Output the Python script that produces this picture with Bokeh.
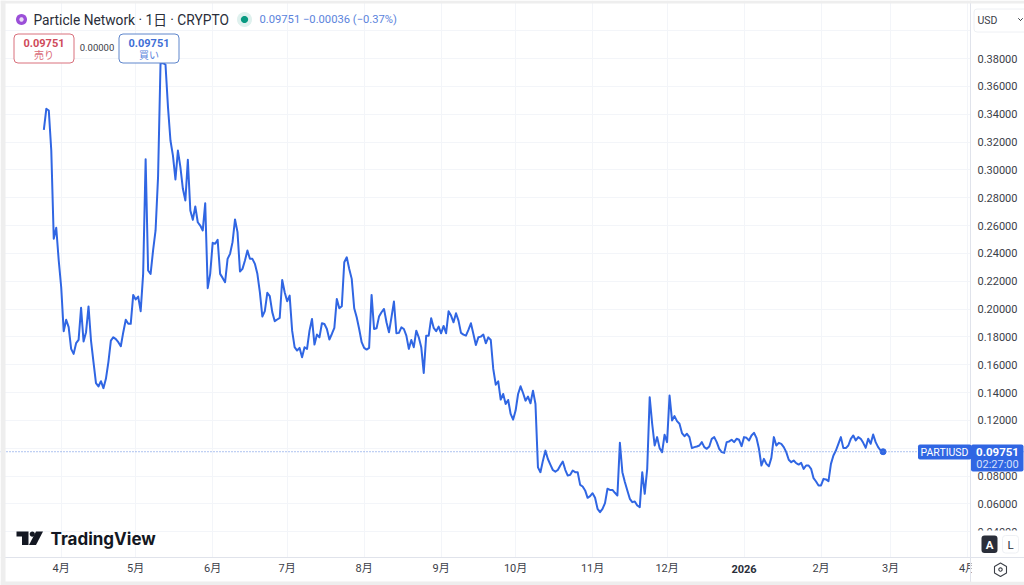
import math
from bokeh.plotting import figure
from bokeh.embed import file_html
from bokeh.resources import INLINE
from bokeh.models import (FixedTicker, NumeralTickFormatter, Label, BoxAnnotation, LinearAxis, Grid,
                          PolyAnnotation, Span, ColumnDataSource, Range1d)

# Daily closes of PARTIUSD, first entry 2025-03-25
prices = [
 .3288,.3439,.3427,.3139,.2505,.2584,.2349,.2157,.1841,.1923,.1870,.1714,.1678,.1755,.1779,.2009,.1767,.1834,.2019,.1774,
 .1619,.1468,.1444,.1482,.1432,.1499,.1619,.1774,.1798,.1784,.1762,.1733,.1834,.1923,.1894,.1894,.2102,.2069,.2090,.1985,
 .2253,.3077,.2277,.2253,.2421,.2565,.2948,.3767,.3767,.3757,.3451,.3211,.3103,.2931,.3139,.3020,.2864,.2780,.3072,.2708,
 .2641,.2737,.2624,.2600,.2565,.2761,.2150,.2253,.2476,.2469,.2497,.2253,.2224,.2193,.2361,.2397,.2481,.2644,.2553,.2270,
 .2289,.2349,.2421,.2361,.2361,.2325,.2253,.2122,.1947,.1985,.2117,.2093,.1978,.1913,.1925,.1937,.2209,.2121,.2056,.2097,
 .1845,.1726,.1702,.1721,.1654,.1726,.1714,.1845,.1929,.1745,.1817,.1797,.1898,.1893,.1857,.1781,.1821,.1865,.2073,.2006,
 .2020,.2336,.2372,.2288,.2217,.2006,.1941,.1857,.1762,.1721,.1709,.1721,.2102,.1857,.1862,.1946,.1977,.2001,.1905,.1833,
 .1941,.2054,.1826,.1829,.1869,.1857,.1809,.1714,.1778,.1726,.1845,.1797,.1726,.1541,.1809,.1809,.1934,.1865,.1841,.1874,
 .1826,.1879,.1826,.1984,.1953,.1905,.1970,.1917,.1829,.1817,.1809,.1850,.1898,.1821,.1742,.1797,.1802,.1817,.1754,.1797,
 .1778,.1570,.1457,.1481,.1350,.1390,.1318,.1347,.1247,.1206,.1271,.1390,.1445,.1397,.1342,.1371,.1323,.1414,.1318,.0863,
 .0828,.0911,.0983,.0923,.0883,.0844,.0832,.0844,.0876,.0905,.0845,.0804,.0809,.0840,.0828,.0828,.0737,.0725,.0697,.0644,
 .0656,.0677,.0644,.0565,.0541,.0565,.0606,.0709,.0701,.0701,.0680,.0661,.1039,.0828,.0757,.0697,.0637,.0613,.0618,.0589,
 .0577,.0828,.0673,.0852,.1367,.1176,.1020,.1080,.1001,.0972,.1097,.1044,.1379,.1200,.1231,.1195,.1176,.1109,.1087,.1104,
 .1080,.1001,.1008,.1013,.1020,.1044,.1008,.0996,.1013,.1068,.1080,.1044,.0996,.0972,.0967,.1044,.1049,.1061,.1044,.1068,
 .1061,.1015,.1080,.1075,.1056,.1092,.1111,.1075,.0996,.0876,.0924,.0888,.0871,.0931,.1080,.1020,.1039,.1032,.1008,.0972,
 .0917,.0900,.0912,.0893,.0883,.0895,.0852,.0876,.0876,.0852,.0785,.0761,.0733,.0733,.0780,.0776,.0764,.0888,.0948,.0984,
 .1032,.1080,.1001,.1001,.1020,.1068,.1092,.1056,.1080,.1068,.1039,.1003,.1068,.1032,.1099,.1044,.1008,.0984,.09751]
days = list(range(len(prices)))

month_days = [7, 37, 68, 98, 129, 160, 190, 221, 251, 282, 313, 341, 372]
month_labels = ["4月", "5月", "6月", "7月", "8月", "9月", "10月", "11月", "12月", "", "2月", "3月", "4月"]
year_day, year_label = 282, "2026"
price_ticks = [0.04, 0.06, 0.08, 0.10, 0.12, 0.14, 0.16, 0.18, 0.20, 0.22, 0.24, 0.26, 0.28, 0.30, 0.32, 0.34, 0.36, 0.38, 0.40]
last_price = 0.09751

BLUE = "#3066e3"
TXT = "#2a2e39"
FONT = "Roboto, 'Noto Sans CJK JP'"
JP = "'Noto Sans CJK JP'"
HEIGHT = 585

# the frame fills the whole picture; the two scales sit at fixed places inside it
p = figure(width=1024, height=HEIGHT, output_backend="svg", toolbar_location=None,
           x_range=Range1d(-17.45, 394.95), y_range=Range1d(0.0014, 0.4217),
           x_axis_location=None, y_axis_location=None,
           min_border_left=0, min_border_top=0, min_border_right=0, min_border_bottom=0)
p.outline_line_color = None
p.background_fill_color = "white"
p.grid.visible = False

TIME_LOC = 0.0215     # the time scale's line
PANE_EDGE = 373.2     # the line between chart and price scale

month_ticker = FixedTicker(ticks=month_days)
price_ticker = FixedTicker(ticks=price_ticks)
xa = LinearAxis(ticker=month_ticker, fixed_location=TIME_LOC)
xa.major_label_overrides = dict(zip(month_days, month_labels))
ya = LinearAxis(ticker=price_ticker, fixed_location=PANE_EDGE, formatter=NumeralTickFormatter(format="0.00000"))
for a in (xa, ya):
    a.major_tick_line_color = None
    a.minor_tick_line_color = None
    a.major_tick_out = 0
    a.major_tick_in = 0
    a.major_label_text_color = "#3c4048"
    a.major_label_text_font = FONT
    a.major_label_text_font_size = "11px"
    a.axis_line_color = "#e0e3eb"
xa.major_label_standoff = 4
ya.major_label_standoff = 7
p.add_layout(xa, "below")
p.add_layout(ya, "right")

for dim, tk in ((0, month_ticker), (1, price_ticker)):
    p.add_layout(Grid(dimension=dim, ticker=tk, grid_line_color="#f3f5f9", grid_line_width=1, level="image"))


def sx(x): return x
def sy(y): return HEIGHT - y


def text(x, y, s, size, color=TXT, align="left", style="normal", font=FONT):
    p.add_layout(Label(x=sx(x), y=sy(y), x_units="screen", y_units="screen", text=s, text_font=font,
                       text_font_size=f"{size}px", text_color=color, text_align=align, text_baseline="middle",
                       text_font_style=style))


def box(x0, y0, x1, y1, fill="white", line=None, radius=0, level="annotation"):
    p.add_layout(BoxAnnotation(left=sx(x0), right=sx(x1), top=sy(y0), bottom=sy(y1),
                               left_units="screen", right_units="screen", top_units="screen", bottom_units="screen",
                               fill_color=fill, fill_alpha=1, line_color=line, line_alpha=1, line_width=1,
                               border_radius=radius, level=level, editable=False))


def poly(pts, fill=None, line=None, w=1.0):
    p.add_layout(PolyAnnotation(xs=[sx(a) for a, _ in pts], ys=[sy(b) for _, b in pts],
                                xs_units="screen", ys_units="screen",
                                fill_color=fill, fill_alpha=1 if fill else 0, line_color=line, line_alpha=1,
                                line_width=w))


def ring(cx, cy, r, n=24):
    return [(cx + r * math.cos(2 * math.pi * k / n), cy + r * math.sin(2 * math.pi * k / n)) for k in range(n)]


# white scale panes hide the grid, below the axes
box(970.5, 0, 1024, 585, level="underlay")
box(0, 557, 1024, 585, level="underlay")

src = ColumnDataSource(dict(day=days, price=prices))
p.add_layout(Span(location=last_price, dimension="width", line_color="#5d86e0", line_dash=[1, 2], line_width=1))
p.line("day", "price", source=src, line_color=BLUE, line_width=2, line_join="round")
p.scatter([days[-1]], [prices[-1]], size=6, color=BLUE)

# page edge stripes
box(0, 0, 5, 585, fill="#eeeeee")
box(0, 0, 1024, 3, fill="#eeeeee")
box(0, 581, 1024, 585, fill="#eeeeee")

# header
poly(ring(21, 19, 5.5), fill="#9b4fd8")
poly(ring(21, 19, 2.2), fill="#e8dcf5")
text(33, 19.5, "Particle Network · 1日 · CRYPTO", 13.75)
poly(ring(244, 19, 7.5), fill="#dff1ee")
poly(ring(244, 19, 3.6), fill="#089981")
text(259, 19, "0.09751  −0.00036 (−0.37%)", 11.2, color="#5b83dc")

# buy / sell
box(13.5, 33.5, 73.5, 62.5, line="#d9707c", radius=4)
text(43.5, 42, "0.09751", 11, color="#cf4a5a", align="center", style="bold")
text(43.5, 54, "売り", 10, color="#d96a76", align="center", font=JP)
text(96.5, 47, "0.00000", 9.5, color="#3c4048", align="center")
box(118.5, 33.5, 178.5, 62.5, line="#5f86cc", radius=4)
text(148.5, 42, "0.09751", 11, color="#3f6fd6", align="center", style="bold")
text(148.5, 54, "買い", 10, color="#5b83dc", align="center", font=JP)

# logo
poly([(16, 531), (28, 531), (28, 544.5), (21.5, 544.5), (21.5, 536), (16, 536)], fill="#131722")
poly(ring(31.8, 533.6, 2.6, 16), fill="#131722")
poly([(35.5, 531), (42.5, 531), (35.5, 544.5), (28.5, 544.5)], fill="#131722")
text(50, 538.5, "TradingView", 17, color="#131722", font="Inter", style="bold")

# right-hand scale furniture
box(971, 558, 1024, 581)
box(971, 530, 1024, 556.5)
box(971, 31, 1024, 42)
box(971, 440, 1024, 445)
box(973.5, 8.5, 1030, 31.5, line="#eef0f4", radius=3)
text(977, 19.5, "USD", 10.5, color="#3c4048")
poly([(1018, 18), (1020, 20), (1022, 18), (1020, 20)], line="#3c4048")
box(981, 535, 997, 552.5, fill="#2a2e39", radius=3)
text(989, 544, "A", 11.5, color="white", align="center", style="bold")
box(1002, 535, 1018, 552.5, line="#eef0f4", radius=3)
text(1010, 544, "L", 11.5, color="#2a2e39", align="center")
poly([(1000, 562.5), (1006, 566), (1006, 572.5), (1000, 576), (994, 572.5), (994, 566)], line="#3c4048", w=1.1)
poly(ring(1000, 569, 1.7, 12), line="#3c4048", w=1.1)

# last price tags
box(917.5, 444, 971, 459, fill=BLUE, radius=2)
text(944, 451.5, "PARTIUSD", 10.5, color="white", align="center")
box(970.5, 444, 1023, 471, fill=BLUE, radius=2)
text(997, 451.5, "0.09751", 11.5, color="white", align="center", style="bold")
text(997, 463.5, "02:27:00", 11, color="#d5e0fb", align="center")

# bold year label on the time scale
p.add_layout(Label(x=year_day, y=sy(568), x_units="data", y_units="screen", text=year_label, text_font=FONT,
                   text_font_size="11px", text_font_style="bold", text_color="#2a2e39",
                   text_align="center", text_baseline="middle"))

open("out.html", "w").write(file_html(p, INLINE))
